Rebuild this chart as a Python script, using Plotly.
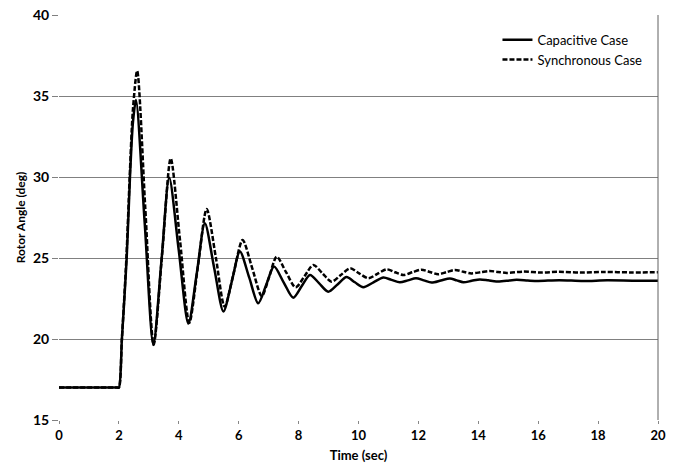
import plotly.graph_objects as go

# Capacitive case (solid)
t_cap = [0, 1.95, 2.0, 2.1, 2.26, 2.37, 2.47, 2.57, 2.86, 3.15, 3.42, 3.68, 4.0, 4.32,
         4.6, 4.87, 5.18, 5.49, 5.77, 6.04, 6.35, 6.65, 6.92, 7.18, 7.5, 7.82, 8.1,
         8.38, 8.68, 8.99, 9.3, 9.6, 9.88, 10.16, 10.5, 10.83, 11.1, 11.38, 11.65,
         11.92, 12.18, 12.44, 12.75, 13.05, 13.28, 13.5, 13.78, 14.05, 14.33, 14.6,
         14.95, 15.28, 15.65, 16.0, 16.7, 17.5, 18.3, 19.2, 20.0]
y_cap = [17, 17, 17, 20, 25, 30, 33.4, 34.75, 27.2, 19.63, 24.8, 29.95, 25.45, 20.95,
         24.05, 27.15, 24.4, 21.7, 23.55, 25.4, 23.8, 22.2, 23.35, 24.47, 23.5, 22.55, 23.25,
         23.95, 23.45, 22.92, 23.37, 23.82, 23.5, 23.2, 23.5, 23.8, 23.65, 23.5, 23.62,
         23.75, 23.62, 23.48, 23.61, 23.74, 23.62, 23.5, 23.59, 23.68, 23.62, 23.55,
         23.6, 23.65, 23.61, 23.58, 23.63, 23.58, 23.62, 23.6, 23.6]

# Synchronous case (dashed)
t_syn = [0, 1.95, 2.0, 2.1, 2.25, 2.36, 2.47, 2.61, 2.88, 3.16, 3.45, 3.73, 4.04, 4.35,
         4.64, 4.93, 5.24, 5.53, 5.83, 6.13, 6.45, 6.77, 7.02, 7.27, 7.58, 7.9, 8.2,
         8.49, 8.8, 9.1, 9.41, 9.72, 10.02, 10.33, 10.63, 10.94, 11.22, 11.5, 11.8,
         12.1, 12.38, 12.66, 12.94, 13.22, 13.5, 13.77, 14.08, 14.38, 14.66, 14.95,
         15.5, 16.1, 16.7, 17.4, 18.2, 19.1, 20.0]
y_syn = [17, 17, 17, 20, 25, 30, 34.2, 36.55, 28.1, 19.65, 25.4, 31.15, 26.1, 21.0,
         24.5, 28.02, 25.0, 22.0, 24.05, 26.11, 24.38, 22.65, 23.85, 25.08, 24.13, 23.19, 23.88,
         24.57, 24.05, 23.54, 23.95, 24.36, 24.05, 23.75, 24.02, 24.3, 24.12, 23.95, 24.12,
         24.28, 24.14, 24.0, 24.13, 24.26, 24.15, 24.05, 24.12, 24.2, 24.14, 24.08,
         24.16, 24.1, 24.15, 24.1, 24.14, 24.11, 24.12]

x_ticks = [0, 2, 4, 6, 8, 10, 12, 14, 16, 18, 20]
y_ticks = [15, 20, 25, 30, 35, 40]

FONT = "Lato"

fig = go.Figure()
fig.add_trace(go.Scatter(x=t_cap, y=y_cap, mode="lines", name="Capacitive Case",
                         line=dict(color="black", width=2.5, shape="spline", smoothing=0.8)))
fig.add_trace(go.Scatter(x=t_syn, y=y_syn, mode="lines", name="Synchronous Case",
                         line=dict(color="black", width=2.5, dash="5px,2px",
                                   shape="spline", smoothing=0.8)))

fig.update_layout(
    width=674, height=468,
    margin=dict(l=59, r=16, t=15, b=48, autoexpand=False),
    paper_bgcolor="white", plot_bgcolor="white",
    font=dict(family=FONT, color="black", size=13),
    showlegend=True,
    legend=dict(x=0.732, y=0.976, xanchor="left", yanchor="top",
                bgcolor="rgba(0,0,0,0)", font=dict(family=FONT, size=13, color="black"),
                tracegroupgap=0, itemwidth=30),
    xaxis=dict(range=[0, 20], tickvals=x_ticks, ticktext=[str(v) for v in x_ticks],
               automargin=False,
               showgrid=False, zeroline=False, showline=False,
               ticks="outside", ticklen=3, tickcolor="#888888", tickwidth=1,
               tickfont=dict(family=FONT, size=13, color="black", weight="bold"),
               title=dict(text="Time (sec)", font=dict(family=FONT, size=13, weight="bold"),
                          standoff=9)),
    yaxis=dict(range=[15, 40], tickvals=y_ticks, ticktext=[str(v) for v in y_ticks],
               automargin=False,
               showgrid=True, gridcolor="#808080", gridwidth=1, zeroline=False,
               showline=False, ticks="outside", ticklen=6, tickcolor="#808080",
               tickfont=dict(family=FONT, size=14, color="black", weight="bold"),
               title=dict(text="Rotor Angle (deg)", font=dict(family=FONT, size=12, weight="bold"),
                          standoff=4)),
    shapes=[dict(type="line", xref="paper", yref="paper", x0=1, x1=1, y0=0, y1=1,
                 line=dict(color="#606060", width=1))],
)

fig.write_html("out.html")
